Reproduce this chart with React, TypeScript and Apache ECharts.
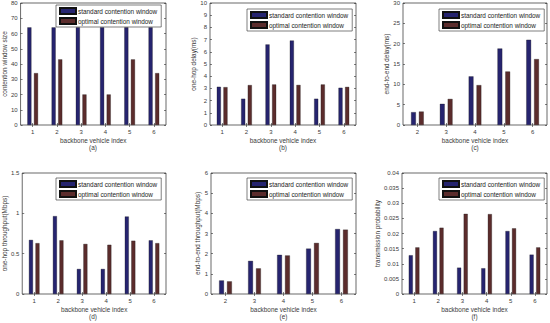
import React, { useEffect, useRef } from "react";
import * as echarts from "echarts";

// Categories (backbone vehicle index)
const vehicles6 = ["1", "2", "3", "4", "5", "6"];
const vehicles5 = ["2", "3", "4", "5", "6"];

// (a) contention window size
const cwStandard = [64, 64, 64, 64, 64, 64];
const cwOptimal = [34, 43, 20, 20, 43, 34];
// (b) one-hop delay (ms)
const hopDelayStandard = [3.13, 2.15, 6.6, 6.92, 2.15, 3.05];
const hopDelayOptimal = [3.1, 3.27, 3.32, 3.28, 3.32, 3.12];
// (c) end-to-end delay (ms)
const e2eDelayStandard = [3.15, 5.2, 11.95, 18.8, 20.95];
const e2eDelayOptimal = [3.3, 6.4, 9.8, 13.15, 16.2];
// (d) one-hop throughput (Mbps)
const hopThrStandard = [0.67, 0.965, 0.31, 0.31, 0.96, 0.665];
const hopThrOptimal = [0.63, 0.665, 0.62, 0.61, 0.66, 0.63];
// (e) end-to-end throughput (Mbps)
const e2eThrStandard = [0.67, 1.64, 1.94, 2.25, 3.22];
const e2eThrOptimal = [0.625, 1.27, 1.91, 2.53, 3.19];
// (f) transmission probability
const probStandard = [0.0128, 0.0208, 0.0087, 0.0085, 0.0208, 0.013];
const probOptimal = [0.0154, 0.0219, 0.0265, 0.0264, 0.0217, 0.0154];

const seriesNames = ["standard contention window", "optimal contention window"];
const xName = "backbone vehicle index";

const FONT = "'Liberation Sans', Arial, sans-serif";
const STD_COLOR = "#26246f";
const OPT_COLOR = "#5b2c2c";
const FRAME = "#2a2a2a";

type Panel = {
  grid: { left: number; top: number; width: number; height: number };
  cats: string[];
  std: number[];
  opt: number[];
  yName: string;
  max: number;
  interval: number;
  nameGap: number;
  legend: { left: number; top: number };
  caption: string;
};

const panels: Panel[] = [
  { grid: { left: 20, top: 3, width: 146, height: 122 }, cats: vehicles6, std: cwStandard, opt: cwOptimal, yName: "contention window size", max: 80, interval: 10, nameGap: 11, legend: { left: 56, top: 5 }, caption: "(a)" },
  { grid: { left: 210, top: 3, width: 146, height: 122 }, cats: vehicles6, std: hopDelayStandard, opt: hopDelayOptimal, yName: "one-hop delay(ms)", max: 10, interval: 1, nameGap: 8, legend: { left: 247, top: 9 }, caption: "(b)" },
  { grid: { left: 403, top: 3, width: 144, height: 122 }, cats: vehicles5, std: e2eDelayStandard, opt: e2eDelayOptimal, yName: "end-to-end delay(ms)", max: 30, interval: 5, nameGap: 12, legend: { left: 439, top: 9 }, caption: "(c)" },
  { grid: { left: 20, top: 173, width: 146, height: 121 }, cats: vehicles6, std: hopThrStandard, opt: hopThrOptimal, yName: "one-hop throughput(Mbps)", max: 1.5, interval: 0.5, nameGap: 13, legend: { left: 56, top: 178 }, caption: "(d)" },
  { grid: { left: 211, top: 173, width: 145, height: 121 }, cats: vehicles5, std: e2eThrStandard, opt: e2eThrOptimal, yName: "end-to-end throughput(Mbps)", max: 6, interval: 1, nameGap: 9, legend: { left: 247, top: 178 }, caption: "(e)" },
  { grid: { left: 402, top: 173, width: 145, height: 121 }, cats: vehicles6, std: probStandard, opt: probOptimal, yName: "transmission probability", max: 0.04, interval: 0.005, nameGap: 18, legend: { left: 439, top: 178 }, caption: "(f)" },
];

function buildOption() {
  const grid: any[] = [];
  const xAxis: any[] = [];
  const yAxis: any[] = [];
  const series: any[] = [];
  const legend: any[] = [];
  const graphic: any[] = [];

  panels.forEach((p, i) => {
    grid.push({
      left: p.grid.left,
      top: p.grid.top,
      width: p.grid.width,
      height: p.grid.height,
      show: true,
      borderColor: FRAME,
      borderWidth: 0.7,
      backgroundColor: "#fff",
    });
    // bottom x axis
    xAxis.push({
      type: "category",
      gridIndex: i,
      data: p.cats,
      position: "bottom",
      boundaryGap: true,
      axisLine: { show: false },
      axisTick: { show: true, inside: true, alignWithLabel: true, length: 2, lineStyle: { color: FRAME, width: 0.6 } },
      axisLabel: { fontSize: 6, color: "#3a3a3a", fontFamily: FONT, margin: 4 },
      name: xName,
      nameLocation: "middle",
      nameGap: 12,
      nameTextStyle: { fontSize: 6.4, color: "#3a3a3a", fontFamily: FONT },
      splitLine: { show: false },
    });
    // top x axis (ticks only)
    xAxis.push({
      type: "category",
      gridIndex: i,
      data: p.cats,
      position: "top",
      boundaryGap: true,
      axisLine: { show: false },
      axisTick: { show: true, inside: true, alignWithLabel: true, length: 2, lineStyle: { color: FRAME, width: 0.6 } },
      axisLabel: { show: false },
      splitLine: { show: false },
    });
    yAxis.push({
      type: "value",
      gridIndex: i,
      min: 0,
      max: p.max,
      interval: p.interval,
      position: "left",
      axisLine: { show: false },
      axisTick: { show: true, inside: true, length: 2, lineStyle: { color: FRAME, width: 0.6 } },
      axisLabel: { fontSize: 6, color: "#3a3a3a", fontFamily: FONT, margin: 3 },
      splitLine: { show: false },
      name: p.yName,
      nameLocation: "middle",
      nameRotate: 90,
      nameGap: p.nameGap,
      nameTextStyle: { fontSize: 6.4, color: "#3a3a3a", fontFamily: FONT },
    });
    yAxis.push({
      type: "value",
      gridIndex: i,
      min: 0,
      max: p.max,
      interval: p.interval,
      position: "right",
      axisLine: { show: false },
      axisTick: { show: true, inside: true, length: 2, lineStyle: { color: FRAME, width: 0.6 } },
      axisLabel: { show: false },
      splitLine: { show: false },
    });
    const bw = "16.5%";
    series.push({
      type: "bar",
      name: seriesNames[0],
      xAxisIndex: i * 2,
      yAxisIndex: i * 2,
      data: p.std,
      barWidth: bw,
      barGap: "65%",
      itemStyle: { color: STD_COLOR, borderColor: "#111", borderWidth: 0.3 },
    });
    series.push({
      type: "bar",
      name: seriesNames[1],
      xAxisIndex: i * 2,
      yAxisIndex: i * 2,
      data: p.opt,
      barWidth: bw,
      barGap: "65%",
      itemStyle: { color: OPT_COLOR, borderColor: "#111", borderWidth: 0.3 },
    });
    legend.push({
      data: seriesNames,
      left: p.legend.left,
      top: p.legend.top,
      orient: "vertical",
      icon: "rect",
      itemWidth: 16,
      itemHeight: 6,
      itemGap: 2,
      padding: [2, 4, 2, 3],
      borderColor: FRAME,
      borderWidth: 0.6,
      backgroundColor: "#fff",
      selectedMode: false,
      textStyle: { fontSize: 6.4, color: "#222", fontFamily: FONT, padding: [0, 0, 0, -3] },
    });
    graphic.push({
      type: "text",
      x: p.grid.left + p.grid.width / 2,
      y: p.grid.top + p.grid.height + 19,
      style: { text: p.caption, fontSize: 6.4, fill: "#3a3a3a", fontFamily: FONT, align: "center" },
    });
  });

  return {
    animation: false,
    backgroundColor: "#fff",
    grid,
    xAxis,
    yAxis,
    series,
    legend,
    graphic,
  };
}

export default function App() {
  const ref = useRef<HTMLDivElement>(null);
  useEffect(() => {
    if (!ref.current) return;
    const chart = echarts.init(ref.current, null, { renderer: "svg" });
    chart.setOption(buildOption() as any);
    return () => chart.dispose();
  }, []);
  return (
    <div
      ref={ref}
      style={{ position: "fixed", left: 0, top: 0, width: 550, height: 323, background: "#fff" }}
    />
  );
}
